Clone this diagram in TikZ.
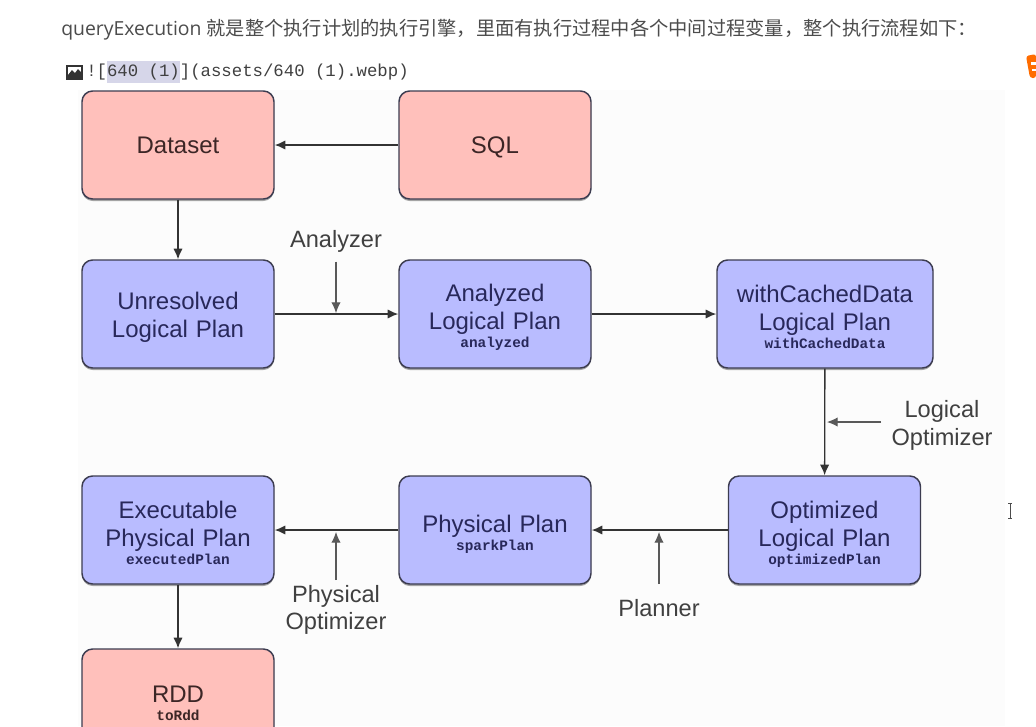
\documentclass[tikz,border=0pt]{standalone}
\usepackage{fontspec}
\setmainfont{Liberation Sans}
\setmonofont{Liberation Mono}
\newfontfamily\cjk{Noto Sans CJK SC}
\newfontfamily\pagefont{Open Sans}
\usepackage{xcolor}
\usetikzlibrary{arrows.meta,shadows}

\definecolor{boxpink}{HTML}{FFC0BB}
\definecolor{boxblue}{HTML}{B9BCFF}
\definecolor{boxline}{HTML}{3C3C50}
\definecolor{pinktext}{HTML}{3C2626}
\definecolor{bluetext}{HTML}{28285A}

\newcommand{\varname}[1]{{\fontsize{10.8}{14}\selectfont\ttfamily\bfseries #1}}
\newcommand{\lift}[1]{\rule{0pt}{#1}}

\tikzset{
  plan/.style={draw=boxline, line width=1.1pt, rounded corners=8pt, align=center,
    text width=144pt, minimum height=81pt, inner sep=0pt, font=\fontsize{18}{21}\selectfont,
    drop shadow={shadow xshift=0pt, shadow yshift=-1.5pt, opacity=0.35, fill=black}},
  pinkplan/.style={plan, fill=boxpink, text=pinktext},
  blueplan/.style={plan, fill=boxblue, text=bluetext},
  flow/.style={-{Latex[length=8pt,width=7pt]}, line width=1pt, draw=black!80},
  hint/.style={-{Latex[length=8pt,width=7pt]}, line width=0.8pt, draw=black!65},
  hintlabel/.style={align=center, inner sep=0pt, text=black!75, font=\fontsize{17.7}{20.5}\selectfont}
}

\begin{document}
\begin{tikzpicture}[x=0.75pt, y=-0.75pt]

  % Page
  \path[use as bounding box, clip] (0, 0) rectangle (1036, 726);
  \fill[white] (0, 0) rectangle (1036, 726);
  \fill[black!1] (78, 90) rectangle (1005, 726);

  % Text above the picture
  \node[anchor=base west, inner sep=0pt, text=black!70] (intro) at (61, 35)
    {\fontsize{14.55}{16}\selectfont\pagefont queryExecution \fontsize{14.44}{16}\selectfont\cjk 就是整个执行计划的执行引擎，里面有执行过程中各个中间过程变量，整个执行流程如下：};
  \fill[blue!30!gray!25] (107, 61) rectangle (180, 83);
  \node[anchor=base west, inner sep=0pt, text=black!75] (source) at (86, 76)
    {\fontsize{13}{15}\selectfont\ttfamily ![640 (1)](assets/640 (1).webp)};

  % Image icon
  \fill[black!80] (66, 65) rectangle (83, 80);
  \fill[white] (68, 67) rectangle (81, 75);
  \fill[black!80] (68, 75) -- (72, 70) -- (75, 73) -- (78, 69) -- (81, 72) -- (81, 76) -- (68, 76) -- cycle;

  % Orange logo at the edge
  \fill[orange!85!red, rounded corners=2pt] (1026, 56) -- (1036, 54) -- (1036, 78) -- (1030, 78) -- cycle;
  \fill[white] (1031, 62) rectangle (1036, 65);
  \fill[white] (1032, 69) rectangle (1036, 71);

  % Mouse cursor
  \draw[black!70, line width=0.6pt] (1008, 503) -- (1012, 503) (1010, 503) -- (1010, 518) (1008, 518) -- (1012, 518);

  % Boxes
  \node[pinkplan] (dataset) at (178, 145) {Dataset};
  \node[pinkplan, text depth=0pt] (sql) at (495, 145) {SQL};
  \node[blueplan] (unresolved) at (178, 314) {\lift{18pt}Unresolved\\Logical Plan};
  \node[blueplan] (analyzed) at (495, 314) {\lift{18pt}Analyzed\\Logical Plan\\[-7.5pt]\varname{analyzed}};
  \node[blueplan, text width=162pt] (cached) at (825, 314) {\lift{17pt}withCachedData\\Logical Plan\\[-7.5pt]\varname{withCachedData}};
  \node[blueplan] (optimized) at (824.5, 530) {\lift{20pt}Optimized\\Logical Plan\\[-7.5pt]\varname{optimizedPlan}};
  \node[blueplan] (physical) at (495, 530) {\lift{19pt}Physical Plan\\[-7.5pt]\varname{sparkPlan}};
  \node[blueplan] (executable) at (178, 530) {\lift{17pt}Executable\\Physical Plan\\[-7.5pt]\varname{executedPlan}};
  \node[pinkplan] (rdd) at (178, 703) {RDD\\[-7.5pt]\varname{toRdd}};

  % Flow
  \draw[flow] (sql) -- (dataset);
  \draw[flow] (dataset) -- (unresolved);
  \draw[flow] (unresolved) -- (analyzed);
  \draw[flow] (analyzed) -- (cached);
  \draw[flow] (cached) -- (optimized);
  \draw[flow] (optimized) -- (physical);
  \draw[flow] (physical) -- (executable);
  \draw[flow] (executable) -- (rdd);

  % Labels on the flow
  \node[hintlabel] (analyzer) at (336, 241) {Analyzer};
  \node[hintlabel] (logical) at (942, 425.5) {Logical\\Optimizer};
  \node[hintlabel] (planner) at (659, 608) {Planner};
  \node[hintlabel] (physopt) at (336, 610) {Physical\\Optimizer};

  \coordinate (analyzerhit) at (336, 313);
  \coordinate (logicalfrom) at (881, 422);
  \coordinate (logicalhit) at (827, 422);
  \coordinate (plannerfrom) at (659, 584);
  \coordinate (plannerhit) at (659, 532);
  \coordinate (physoptfrom) at (336, 580);
  \coordinate (physopthit) at (336, 532);

  \draw[hint, shorten <=7pt] (analyzer) -- (analyzerhit);
  \draw[hint] (logicalfrom) -- (logicalhit);
  \draw[hint] (plannerfrom) -- (plannerhit);
  \draw[hint] (physoptfrom) -- (physopthit);

\end{tikzpicture}
\end{document}
